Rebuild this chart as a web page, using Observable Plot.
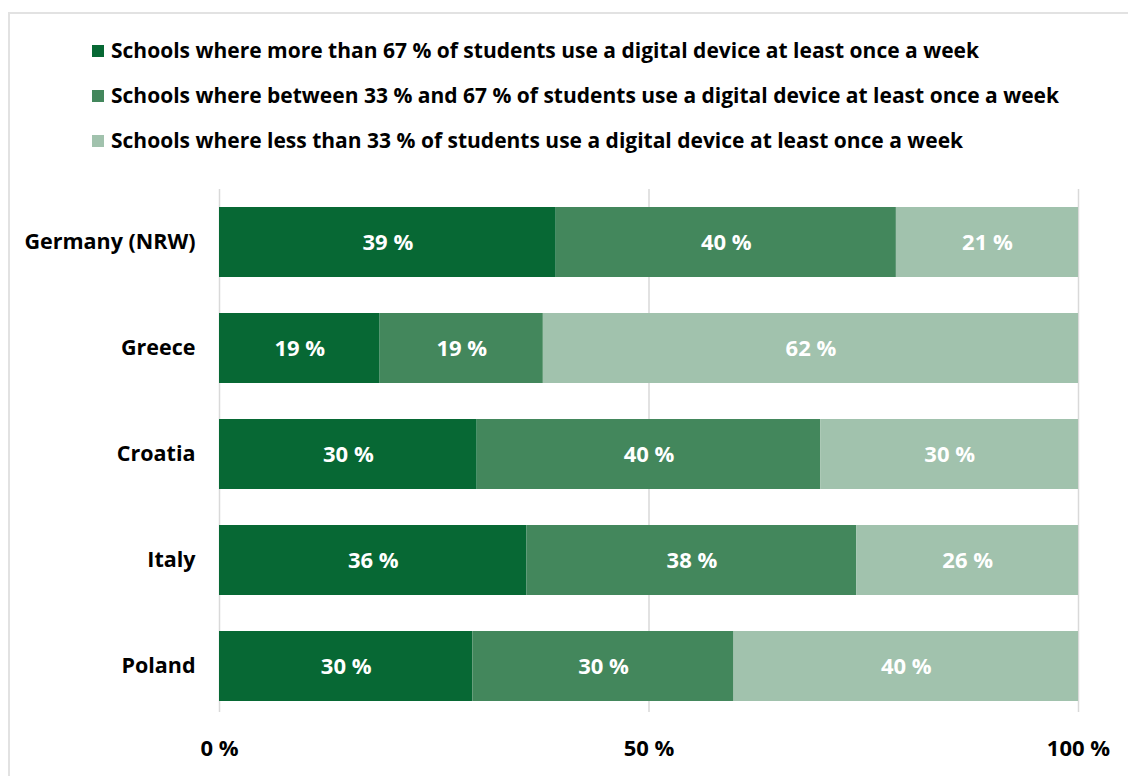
<!DOCTYPE html>
<html>
<head>
<meta charset="utf-8">
<script src="https://cdn.jsdelivr.net/npm/d3@7"></script>
<script src="https://cdn.jsdelivr.net/npm/@observablehq/plot@0.6"></script>
<style>
  html, body { margin: 0; padding: 0; width: 1128px; height: 776px; overflow: hidden; background: #fff; }
  body { position: relative; font-family: "Open Sans", "Noto Sans", sans-serif; font-weight: 700; color: #000; }
  #frame { position: absolute; left: 8px; top: 12px; width: 1300px; height: 900px; border: 2px solid #e2e2e2; box-sizing: border-box; }
  #legend { position: absolute; left: 92px; top: 34px; }
  .item { position: relative; height: 45px; line-height: 32px; font-size: 21px; white-space: nowrap; letter-spacing: 0; }
  .sw { display: inline-block; width: 12px; height: 12px; margin-right: 7px; vertical-align: 1px; }
  #chart { position: absolute; left: 0; top: 160px; }
</style>
</head>
<body>
<div id="frame"></div>
<div id="legend"></div>
<div id="chart"></div>
<script>
const countries = ["Germany (NRW)", "Greece", "Croatia", "Italy", "Poland"];
const categories = [
  "Schools where more than 67 % of students use a digital device at least once a week",
  "Schools where between 33 % and 67 % of students use a digital device at least once a week",
  "Schools where less than 33 % of students use a digital device at least once a week"
];
const more67 = [39.2, 18.7, 30.0, 35.8, 29.5];
const between33and67 = [39.6, 19.0, 40.0, 38.4, 30.4];
const less33 = [21.2, 62.3, 30.0, 25.8, 40.1];
const xTicks = [0, 50, 100];
const colors = ["#076834", "#43875c", "#a1c2ad"];

const series = [more67, between33and67, less33];
const data = [];
countries.forEach((c, i) => {
  categories.forEach((cat, j) => {
    data.push({country: c, category: cat, value: series[j][i]});
  });
});

// legend
const legend = document.getElementById("legend");
categories.forEach((cat, j) => {
  const div = document.createElement("div");
  div.className = "item";
  const sw = document.createElement("span");
  sw.className = "sw";
  sw.style.background = colors[j];
  div.appendChild(sw);
  div.appendChild(document.createTextNode(cat));
  legend.appendChild(div);
});

const chart = Plot.plot({
  width: 1128,
  height: 616,
  marginLeft: 219,
  marginRight: 50,
  marginTop: 29,
  marginBottom: 57,
  style: {fontFamily: "'Open Sans', 'Noto Sans', sans-serif", fontWeight: 700, fontSize: "21px", color: "#000", background: "transparent"},
  x: {domain: [0, 100], ticks: xTicks, tickFormat: d => d + " %", tickSize: 0, tickPadding: 24, label: null},
  y: {domain: countries, padding: 0.34, paddingOuter: 0.17, tickSize: 0, tickPadding: 24, label: null},
  color: {domain: categories, range: colors},
  marks: [
    Plot.gridX(xTicks, {stroke: "#d9d9d9", strokeOpacity: 1, strokeWidth: 1.5, insetBottom: 7}),
    Plot.barX(data, Plot.stackX({x: "value", y: "country", fill: "category"})),
    Plot.textX(data, Plot.stackX({x: "value", y: "country", z: "category", text: d => Math.round(d.value) + " %", fill: "white", fontSize: 22, fontWeight: 700})),
    Plot.axisX({ticks: xTicks, tickFormat: d => d + " %", tickSize: 0, tickPadding: 21, fontSize: 22, fontWeight: 700}),
    Plot.axisY({tickSize: 0, tickPadding: 24, fontSize: 21.5, fontWeight: 700})
  ]
});
document.getElementById("chart").appendChild(chart);
</script>
</body>
</html>
